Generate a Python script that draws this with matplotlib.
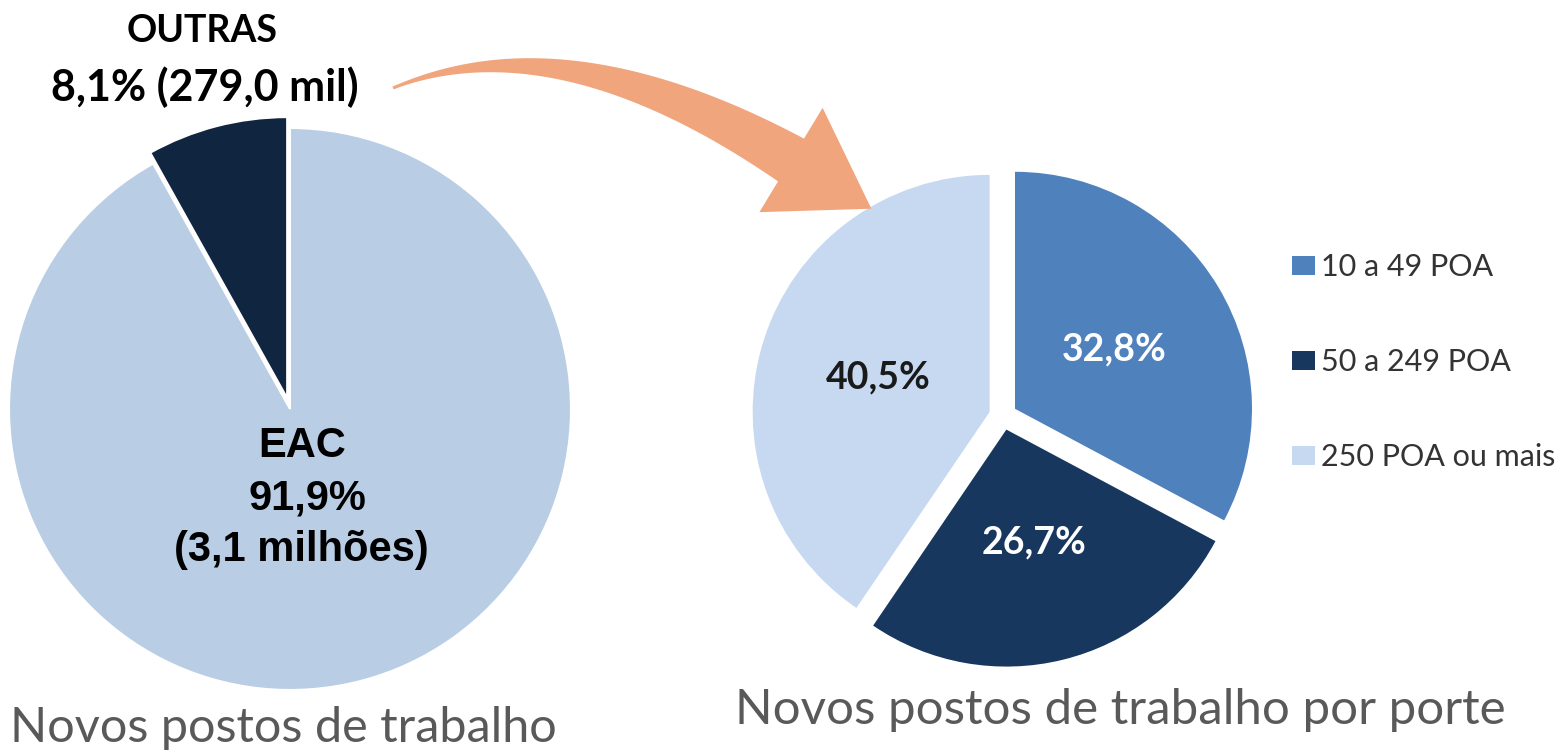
import numpy as np
import matplotlib.pyplot as plt
from matplotlib.patches import Polygon

W, H = 1568, 756

# dados
eac_labels = ['OUTRAS', 'EAC']
eac_pct = [8.1, 91.9]
eac_cores = ['#10253F', '#B9CDE5']

porte_labels = ['10 a 49 POA', '50 a 249 POA', '250 POA ou mais']
porte_pct = [32.8, 26.7, 40.5]
porte_cores = ['#4F81BD', '#17375E', '#C6D9F1']
porte_txt_cores = ['white', 'white', '#1A1A1A']

fig = plt.figure(figsize=(W / 100, H / 100), dpi=100)


def eixo_px(cx, cy, meia):
    # eixo quadrado centrado em (cx, cy) em pixels (y para baixo)
    return fig.add_axes([(cx - meia) / W, 1 - (cy + meia) / H, 2 * meia / W, 2 * meia / H])


# pizza da esquerda
ax1 = eixo_px(290, 409, 300)
ax1.pie(eac_pct, colors=eac_cores, startangle=90, counterclock=True,
        explode=[0.04, 0], wedgeprops=dict(edgecolor='white', linewidth=1.5))
lim1 = 300 / 281
ax1.set_xlim(-lim1, lim1)
ax1.set_ylim(-lim1, lim1)

# pizza da direita
ax2 = eixo_px(1003, 416, 290)
wedges, texts, autotexts = ax2.pie(
    porte_pct, colors=porte_cores, startangle=90, counterclock=False,
    explode=[0.059] * 3, pctdistance=0.49,
    autopct=lambda p: f'{p:.1f}%'.replace('.', ','),
    textprops=dict(family='Lato', fontweight='bold', fontsize=27))
for t, c in zip(autotexts, porte_txt_cores):
    t.set_color(c)
lim2 = 290 / 237
ax2.set_xlim(-lim2, lim2)
ax2.set_ylim(-lim2, lim2)

leg = fig.legend(wedges, porte_labels, loc='upper left',
                 bbox_to_anchor=(1292 / W, 1 - 253 / H), frameon=False,
                 prop=dict(family='Lato', size=22), labelcolor='#333333',
                 handlelength=0.75, handleheight=0.6, handletextpad=0.2,
                 labelspacing=2.2, borderpad=0, borderaxespad=0)

# camada de anotacoes em pixels
ov = fig.add_axes([0, 0, 1, 1], zorder=5)
ov.set_xlim(0, W)
ov.set_ylim(H, 0)
ov.axis('off')
ov.patch.set_alpha(0)

# seta curva laranja
P0, P1, P2 = np.array([393.0, 88.0]), np.array([560.0, 20.0]), np.array([791.0, 160.0])
t = np.linspace(0, 1, 80)[:, None]
B = (1 - t) ** 2 * P0 + 2 * (1 - t) * t * P1 + t ** 2 * P2
dB = 2 * (1 - t) * (P1 - P0) + 2 * t * (P2 - P1)
n = np.column_stack([-dB[:, 1], dB[:, 0]]) / np.linalg.norm(dB, axis=1)[:, None]
w = 3 + 47 * t ** 1.3
lado_a = B + n * w / 2
lado_b = B - n * w / 2
u = (P2 - P1) / np.linalg.norm(P2 - P1)
nu = np.array([-u[1], u[0]])
cabeca = [P2 + nu * 61, P2 + u * 94, P2 - nu * 61]
pts = np.vstack([lado_a, cabeca, lado_b[::-1]])
ov.add_patch(Polygon(pts, closed=True, facecolor='#F0A57C', edgecolor='none'))

# rotulos da pizza da esquerda
ov.text(202, 42, eac_labels[0], ha='center', va='baseline', family='Lato',
        fontweight='bold', fontsize=27, color='black')
ov.text(205, 101, '8,1% (279,0 mil)', ha='center', va='baseline', family='Lato',
        fontweight='bold', fontsize=31, color='black')
ov.text(302, 457, eac_labels[1], ha='center', va='baseline', family='Liberation Sans',
        fontweight='bold', fontsize=30, color='black')
ov.text(307, 510, '91,9%', ha='center', va='baseline', family='Liberation Sans',
        fontweight='bold', fontsize=30, color='black')
ov.text(301, 561, '(3,1 milhões)', ha='center', va='baseline', family='Liberation Sans',
        fontweight='bold', fontsize=30, color='black')

# titulos
ov.text(10, 742, 'Novos postos de trabalho', ha='left', va='baseline', family='Lato',
        fontsize=35, color='#595959')
ov.text(735, 724, 'Novos postos de trabalho por porte', ha='left', va='baseline',
        family='Lato', fontsize=35.5, color='#595959')

fig.savefig('out.png', dpi=100)
